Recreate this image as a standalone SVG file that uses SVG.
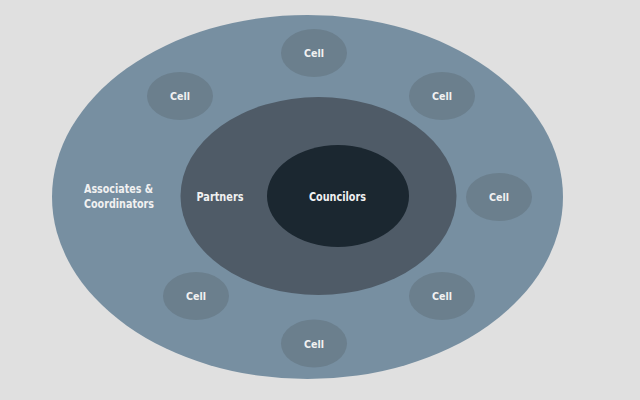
<svg xmlns="http://www.w3.org/2000/svg" width="640" height="400" viewBox="0 0 640 400">
<style>
.t{font-family:"DejaVu Sans Condensed","DejaVu Sans",sans-serif;font-weight:bold;fill:#f1f1f1;text-anchor:middle}
.cell{fill:#6b7f8d}
.c{font-size:11px}
.l{font-size:13px}
</style>
<rect width="640" height="400" fill="#e0e0e0"/>
<g id="associates">
<ellipse cx="307.5" cy="197" rx="255.5" ry="182" fill="#778fa1"/>
<text class="t l" x="84" y="193" style="text-anchor:start" textLength="69" lengthAdjust="spacingAndGlyphs">Associates &amp;</text>
<text class="t l" x="84" y="207.5" style="text-anchor:start" textLength="70" lengthAdjust="spacingAndGlyphs">Coordinators</text>
</g>
<g id="partners">
<ellipse cx="318.5" cy="196" rx="138" ry="99" fill="#4f5b67"/>
<text class="t l" x="220" y="200.5" textLength="47" lengthAdjust="spacingAndGlyphs">Partners</text>
</g>
<g id="councilors">
<ellipse cx="338" cy="196" rx="71" ry="51" fill="#1b2730"/>
<text class="t l" x="337.5" y="200.5" textLength="57" lengthAdjust="spacingAndGlyphs">Councilors</text>
</g>
<g id="cell-top"><ellipse class="cell" cx="314" cy="53" rx="33" ry="24"/><text class="t c" x="314" y="57" textLength="20" lengthAdjust="spacingAndGlyphs">Cell</text></g>
<g id="cell-top-left"><ellipse class="cell" cx="180" cy="96" rx="33" ry="24"/><text class="t c" x="180" y="100" textLength="20" lengthAdjust="spacingAndGlyphs">Cell</text></g>
<g id="cell-top-right"><ellipse class="cell" cx="442" cy="96" rx="33" ry="24"/><text class="t c" x="442" y="100" textLength="20" lengthAdjust="spacingAndGlyphs">Cell</text></g>
<g id="cell-right"><ellipse class="cell" cx="499" cy="197" rx="33" ry="24"/><text class="t c" x="499" y="201" textLength="20" lengthAdjust="spacingAndGlyphs">Cell</text></g>
<g id="cell-bottom-left"><ellipse class="cell" cx="196" cy="296" rx="33" ry="24"/><text class="t c" x="196" y="300" textLength="20" lengthAdjust="spacingAndGlyphs">Cell</text></g>
<g id="cell-bottom-right"><ellipse class="cell" cx="442" cy="296" rx="33" ry="24"/><text class="t c" x="442" y="300" textLength="20" lengthAdjust="spacingAndGlyphs">Cell</text></g>
<g id="cell-bottom"><ellipse class="cell" cx="314" cy="343.5" rx="33" ry="24"/><text class="t c" x="314" y="347.5" textLength="20" lengthAdjust="spacingAndGlyphs">Cell</text></g>
<g id="connectors"/>
</svg>
